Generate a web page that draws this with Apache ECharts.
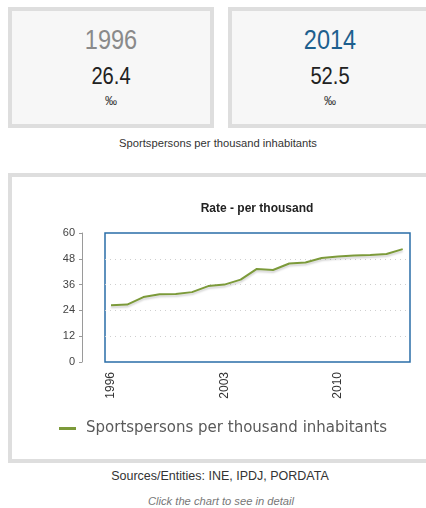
<!DOCTYPE html>
<html>
<head>
<meta charset="utf-8">
<script src="https://cdn.jsdelivr.net/npm/echarts@6/dist/echarts.min.js"></script>
<style>
  html, body { margin: 0; padding: 0; }
  body { width: 426px; height: 508px; overflow: hidden; position: relative; background: #fff; font-family: "Liberation Sans", Arial, sans-serif; }
  .box { position: absolute; box-sizing: border-box; border: 4px solid #dedede; }
  .kpi { top: 7px; height: 121px; background: #f7f7f7; }
  .txt { position: absolute; text-align: center; line-height: 1; white-space: nowrap; }
  .narrow { transform: scaleX(0.84); transform-origin: 50% 50%; }
  #chart { position: absolute; left: 0; top: 0; width: 426px; height: 508px; }
</style>
</head>
<body>
<div class="box kpi" style="left:8px;width:206px"></div>
<div class="box kpi" style="left:228px;width:204px"></div>
<div class="box" style="left:8px;top:173px;width:430px;height:290px;background:#fff"></div>

<div class="txt narrow" id="y1" style="left:8px;width:206px;top:26px;font-size:28px;color:#8a8a8a"></div>
<div class="txt narrow" id="v1" style="left:8px;width:206px;top:64px;font-size:24px;color:#222"></div>
<div class="txt" style="left:8px;width:206px;top:95px;font-size:12px;color:#333">‰</div>
<div class="txt narrow" id="y2" style="left:228px;width:204px;top:26px;font-size:28px;color:#1d5f8e"></div>
<div class="txt narrow" id="v2" style="left:228px;width:204px;top:64px;font-size:24px;color:#222"></div>
<div class="txt" style="left:228px;width:204px;top:95px;font-size:12px;color:#333">‰</div>
<div class="txt" style="left:68px;width:300px;top:138px;font-size:11.2px;color:#333">Sportspersons per thousand inhabitants</div>

<div class="txt" style="left:70px;width:300px;top:470px;font-size:12.5px;color:#333">Sources/Entities: INE, IPDJ, PORDATA</div>
<div class="txt" style="left:71px;width:300px;top:496px;font-size:11.2px;color:#777;font-style:italic">Click the chart to see in detail</div>

<div id="chart"></div>
<script>
// valores
const years = [1996, 1997, 1998, 1999, 2000, 2001, 2002, 2003, 2004, 2005,
  2006, 2007, 2008, 2009, 2010, 2011, 2012, 2013, 2014]
const values = [26.4, 26.7, 30.2, 31.5, 31.6, 32.5, 35.3, 36.0, 38.3, 43.3,
  42.8, 45.8, 46.3, 48.4, 49.1, 49.5, 49.8, 50.2, 52.5]
const xLabels = [1996, 2003, 2010]
const seriesName = 'Sportspersons per thousand inhabitants'

document.getElementById('y1').textContent = years[0]
document.getElementById('v1').textContent = values[0].toFixed(1)
document.getElementById('y2').textContent = years[years.length - 1]
document.getElementById('v2').textContent = values[values.length - 1].toFixed(1)

const seriesData = years.map((y, i) => [y, values[i]])

let option = {
  animation: false,
  title: {
    text: 'Rate - per thousand',
    left: 257,
    top: 203,
    padding: 0,
    textAlign: 'center',
    textStyle: { fontSize: 12, fontWeight: 'bold', color: '#222', fontFamily: 'Liberation Sans' }
  },
  legend: {
    left: 54,
    top: 416,
    icon: 'rect',
    itemWidth: 17,
    itemHeight: 3,
    textStyle: { fontSize: 15, color: '#5a5a5a', fontFamily: 'DejaVu Sans', padding: [0, 0, 0, 5] },
    data: [seriesName]
  },
  grid: {
    left: 105,
    right: 16,
    top: 233,
    bottom: 146,
    show: true,
    borderColor: '#2a6ea8',
    borderWidth: 1.5
  },
  xAxis: {
    type: 'value',
    min: 1995.63,
    max: 2014.45,
    axisLine: { show: false },
    axisTick: { show: false },
    splitLine: { show: false },
    axisLabel: {
      customValues: xLabels,
      formatter: (v) => String(v),
      rotate: 90,
      margin: 10,
      fontSize: 12,
      color: '#333',
      fontFamily: 'Liberation Sans'
    }
  },
  yAxis: {
    type: 'value',
    min: 0,
    max: 60,
    interval: 12,
    offset: 23,
    axisLine: { show: true, lineStyle: { color: '#9a9a9a', width: 1 } },
    axisTick: { show: true, length: 3, lineStyle: { color: '#9a9a9a' } },
    axisLabel: { fontSize: 11, color: '#444', margin: 7, fontFamily: 'Liberation Sans' },
    splitLine: { show: true, showMinLine: false, showMaxLine: false, lineStyle: { color: '#cfcfcf', type: [1, 4] } }
  },
  series: [{
    name: seriesName,
    type: 'line',
    data: seriesData,
    symbol: 'none',
    color: '#7c9a3a',
    lineStyle: {
      width: 2,
      color: '#7c9a3a',
      shadowColor: 'rgba(0,0,0,0.18)',
      shadowBlur: 2,
      shadowOffsetY: 2
    }
  }]
}
let myChart = echarts.init(document.getElementById('chart'))
myChart.setOption(option)
</script>
</body>
</html>
